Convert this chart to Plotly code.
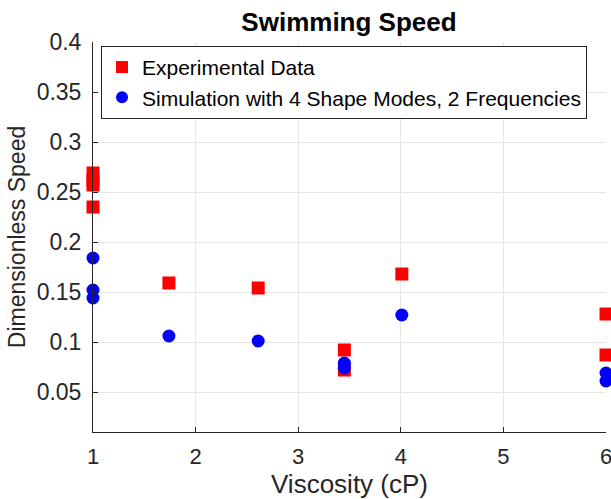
import plotly.graph_objects as go

exp_x = [1, 1, 1, 1, 1.74, 2.61, 3.45, 3.45, 4.01, 6, 6]
exp_y = [0.269, 0.262, 0.257, 0.235, 0.159, 0.154, 0.092, 0.072, 0.168, 0.128, 0.087]
sim_x = [1, 1, 1, 1.74, 2.61, 3.45, 3.45, 4.01, 6, 6]
sim_y = [0.184, 0.152, 0.144, 0.106, 0.101, 0.079, 0.074, 0.127, 0.069, 0.061]
x_ticks = [1, 2, 3, 4, 5, 6]
y_ticks = [0.05, 0.1, 0.15, 0.2, 0.25, 0.3, 0.35, 0.4]
y_tick_text = ["0.05", "0.1", "0.15", "0.2", "0.25", "0.3", "0.35", "0.4"]

FONT = "Liberation Sans, Arial, sans-serif"
AX = "#262626"

fig = go.Figure()
fig.add_trace(go.Scatter(x=exp_x, y=exp_y, mode="markers", name="Experimental Data",
                         marker=dict(symbol="square", size=13, color="#ff0000"), cliponaxis=False))
fig.add_trace(go.Scatter(x=sim_x, y=sim_y, mode="markers",
                         name="Simulation with 4 Shape Modes, 2 Frequencies",
                         marker=dict(symbol="circle", size=13, color="#0000ff"), cliponaxis=False))

fig.update_layout(
    width=611, height=499,
    margin=dict(l=93, r=5, t=42, b=67),
    paper_bgcolor="white", plot_bgcolor="white",
    font=dict(family=FONT, color=AX),
    title=dict(text="<b>Swimming Speed</b>", x=349 / 611, xanchor="center",
               y=1 - 22 / 499, yanchor="middle", font=dict(size=26, color="black", family=FONT)),
    legend=dict(x=0.0156, y=0.99, xanchor="left", yanchor="top",
                bordercolor=AX, borderwidth=1, bgcolor="white",
                font=dict(size=21, color="black", family=FONT),
                itemsizing="constant", tracegroupgap=0),
    showlegend=True,
)
fig.update_xaxes(range=[1, 6], tickvals=x_ticks, showgrid=True, gridcolor="#e6e6e6",
                 showline=True, linecolor=AX, linewidth=1, mirror=False,
                 ticks="inside", ticklen=5, tickcolor=AX, ticklabelstandoff=5,
                 ticklabeloverflow="allow", automargin=False,
                 tickfont=dict(size=22, family=FONT, color=AX),
                 title=dict(text="Viscosity (cP)", font=dict(size=26, family=FONT, color=AX), standoff=0),
                 zeroline=False)
fig.update_yaxes(range=[0.01, 0.4], tickvals=y_ticks, ticktext=y_tick_text, showgrid=True, gridcolor="#e6e6e6",
                 showline=True, linecolor=AX, linewidth=1, mirror=False,
                 ticks="inside", ticklen=5, tickcolor=AX, ticklabelstandoff=6,
                 tickfont=dict(size=23, family=FONT, color=AX),
                 title=dict(text="Dimensionless Speed", font=dict(size=23, family=FONT, color=AX), standoff=4),
                 zeroline=False)

fig.write_html("out.html", config={"displayModeBar": False},
               post_script="document.body.style.margin='0px';")
